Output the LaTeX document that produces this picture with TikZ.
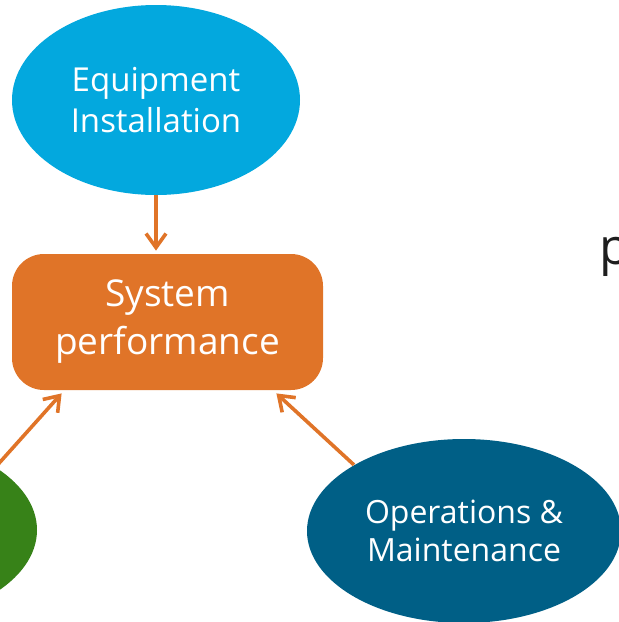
\documentclass[tikz,border=0pt]{standalone}
\usepackage{fontspec}
\setsansfont{Open Sans}
\usetikzlibrary{arrows.meta,shapes.geometric,calc}
\definecolor{skyblue}{RGB}{3,168,222}
\definecolor{rust}{RGB}{224,116,40}
\definecolor{deepblue}{RGB}{0,95,134}
\definecolor{leaf}{RGB}{55,130,24}
\definecolor{ink}{RGB}{30,30,30}

\begin{document}
\begin{tikzpicture}[x=0.5pt,y=-0.5pt,
    blob/.style={ellipse,inner sep=0pt,text=white,align=center,font=\sffamily\fontsize{16.5}{20.5}\selectfont},
    link/.style={-{Straight Barb[length=7pt,width=10pt]},rust,line width=1.8pt}]
  \useasboundingbox (0,0) rectangle (618,622);
  % the three drivers and the hub
  \node[blob,fill=skyblue,minimum width=144pt,minimum height=95pt] (eq) at (156,100) {Equipment\\Installation};
  \node[rounded corners=16pt,fill=rust,minimum width=155.5pt,minimum height=68pt,text=white,align=center,
        font=\sffamily\fontsize{18.5}{24}\selectfont] (sp) at (167.5,322) {System\\performance};
  \node[blob,fill=leaf,minimum width=155pt,minimum height=92pt] (gr) at (-118,530) {};
  \node[blob,fill=deepblue,minimum width=157pt,minimum height=92pt,font=\sffamily\fontsize{16}{19}\selectfont] (om) at (464,531) {Operations \&\\Maintenance};
  \node[text=ink,inner sep=0pt,anchor=base west,font=\sffamily\fontsize{25}{30}\selectfont] (pp) at (599,264) {p};
  % arrows into the hub
  \draw[link,shorten >=1.5pt] (eq.south) -- (eq.south |- sp.north);
  \draw[link] (gr.29) -- ($(sp.south west)+(50,3)$);
  \draw[link] (om.149) -- ($(sp.south east)+(-47,3)$);
\end{tikzpicture}
\end{document}
